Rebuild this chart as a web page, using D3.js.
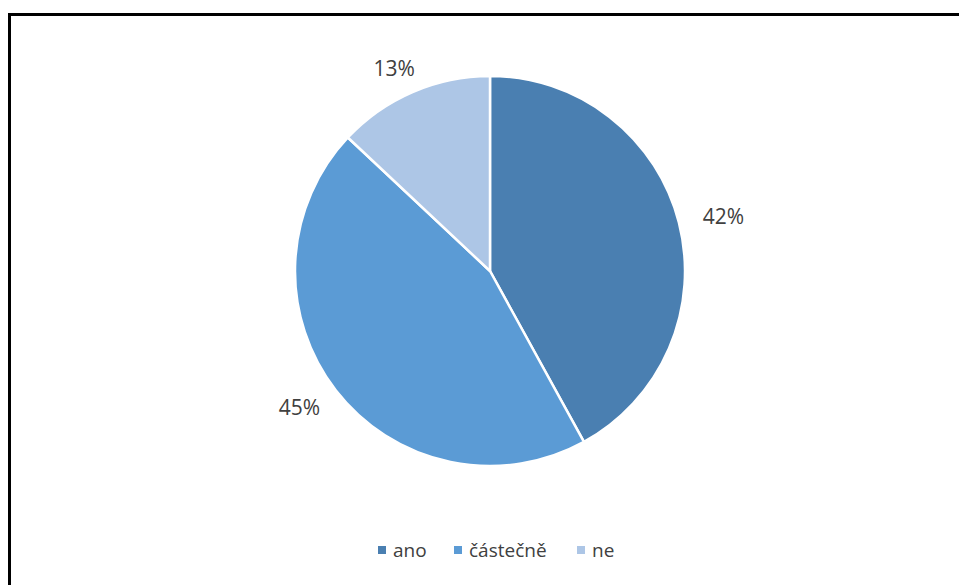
<!DOCTYPE html>
<html>
<head>
<meta charset="utf-8">
<script src="https://cdn.jsdelivr.net/npm/d3@7"></script>
<style>
  html, body { margin: 0; padding: 0; background: #fff; overflow: hidden; }
  svg { display: block; }
  text { font-family: "Open Sans", "Liberation Sans", sans-serif; fill: #404040; }
</style>
</head>
<body>
<svg id="chart" width="959" height="585"></svg>
<script>
const categories = ["ano", "částečně", "ne"];
const values = [42, 45, 13];
const colors = ["#4a7fb1", "#5b9bd5", "#adc6e6"];

const svg = d3.select("#chart");

// chart frame (runs past the window on the right and bottom)
svg.append("rect")
  .attr("x", 9.5).attr("y", 14.5)
  .attr("width", 1000).attr("height", 700)
  .attr("fill", "none").attr("stroke", "#000").attr("stroke-width", 3);

const cx = 490, cy = 271, r = 195;
const data = categories.map((c, i) => ({ name: c, value: values[i] }));

const pie = d3.pie().value(d => d.value).sort(null);
const arcs = pie(data);
const arc = d3.arc().innerRadius(0).outerRadius(r);

const color = d3.scaleOrdinal().domain(categories).range(colors);

const g = svg.append("g").attr("transform", `translate(${cx},${cy})`);

g.selectAll("path.slice")
  .data(arcs)
  .join("path")
  .attr("class", "slice")
  .attr("d", arc)
  .attr("fill", d => color(d.data.name))
  .attr("stroke", "#fff")
  .attr("stroke-width", 2.5)
  .attr("stroke-linejoin", "round");

// percentage labels outside the pie, pushed out along the slice's mid angle
// and offset by the label box so the box sits clear of the edge
const total = d3.sum(values);
const labelR = 208;
const labels = g.selectAll("text.pct")
  .data(arcs)
  .join("text")
  .attr("class", "pct")
  .attr("text-anchor", "middle")
  .attr("dominant-baseline", "central")
  .attr("font-size", 21)
  .text(d => Math.round(d.data.value / total * 100) + "%");

labels.each(function(d) {
  const bb = this.getBBox();
  const a = (d.startAngle + d.endAngle) / 2;
  const ux = Math.sin(a), uy = -Math.cos(a);
  const x = labelR * ux + 1.6 * ux * bb.width / 2;
  const y = labelR * uy + 1.6 * uy * 17 / 2;
  d3.select(this).attr("transform", `translate(${x},${y})`);
});

// legend
const legend = svg.append("g").attr("transform", "translate(378,550)");
const legendX = [0, 76, 199];
const items = legend.selectAll("g.item")
  .data(categories)
  .join("g")
  .attr("class", "item")
  .attr("transform", (d, i) => `translate(${legendX[i]},0)`);
items.append("rect")
  .attr("x", 0).attr("y", -4)
  .attr("width", 8).attr("height", 8)
  .attr("fill", d => color(d));
items.append("text")
  .attr("x", 15).attr("y", 0)
  .attr("dominant-baseline", "central")
  .attr("font-size", 19)
  .text(d => d);
</script>
</body>
</html>
